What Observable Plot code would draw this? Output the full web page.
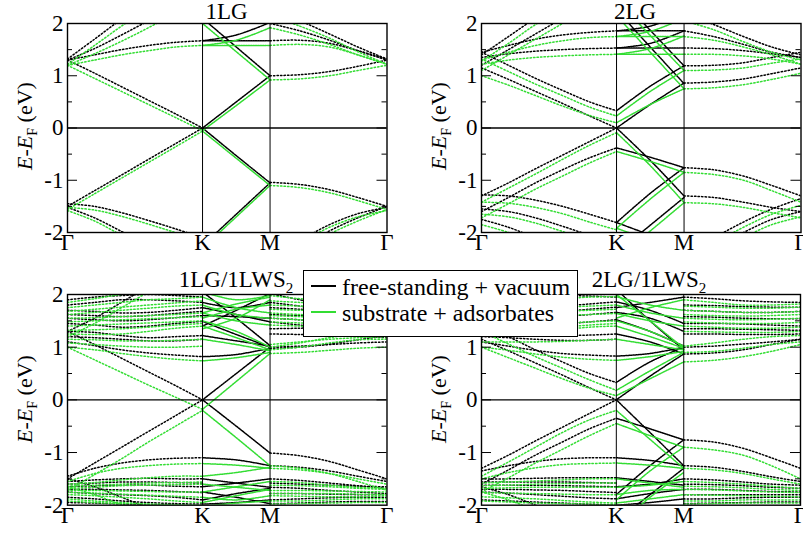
<!DOCTYPE html>
<html><head><meta charset="utf-8">
<script src="https://cdn.jsdelivr.net/npm/d3@7"></script>
<script src="https://cdn.jsdelivr.net/npm/@observablehq/plot@0.6"></script>
<style>
html,body{margin:0;padding:0;background:#fff;overflow:hidden;}
#fig{position:relative;width:803px;height:535px;overflow:hidden;font-family:"Liberation Serif",Tinos,"Times New Roman",Times,"DejaVu Serif",serif;color:#000;}
.abs{position:absolute;}
.title{font-size:23px;line-height:23px;white-space:nowrap;}
.title sub{font-size:15px;vertical-align:-6px;line-height:0;}
.ylab{font-size:22px;line-height:22px;white-space:nowrap;transform:translate(-50%,-50%) rotate(-90deg);}
.ylab sub{font-size:14px;vertical-align:-5px;line-height:0;}
#legend{position:absolute;left:303px;top:270px;width:273px;height:65px;border:1px solid #000;background:#fff;}
.lgline{position:absolute;height:2px;width:25px;}
.lgtext{position:absolute;font-size:24px;line-height:24px;white-space:nowrap;}
</style>
</head><body>
<div id="fig"></div>
<script>
// ---------- axes / labels ----------
const kLabels = ["Γ", "K", "M", "Γ"];
const kPos = [0, 1, 1.5, 2.366];
const yTicks = [-2, -1, 0, 1, 2];
const yMajor = [-1, 0, 1];
const yMinor = [-1.5, -0.5, 0.5, 1.5];
const seriesNames = ["free-standing + vacuum", "substrate + adsorbates"];
const titles = ["1LG", "2LG", "1LG/1LWS<sub>2</sub>", "2LG/1LWS<sub>2</sub>"];
// k-point sampling of each path segment
const xGK = [0, 0.2, 0.4, 0.6, 0.8, 1];
const xKM = [1, 1.25, 1.5];
const xMG = [1.5, 1.72, 1.94, 2.15, 2.366];

// ---------- Panel 1: 1LG ----------
const p1_fs_GK = [
  [1.30, 1.05, 0.79, 0.53, 0.27, 0.00],
  [-1.50, -1.20, -0.90, -0.60, -0.30, 0.00],
  [1.32, 1.70, 2.08, 2.40, 2.70, 2.95],
  [1.30, 1.52, 1.78, 2.05, 2.30, 2.55],
  [1.30, 1.40, 1.50, 1.58, 1.64, 1.67],
  [-1.45, -1.50, -1.62, -1.77, -1.93, -2.10],
  [-1.52, -1.72, -1.98, -2.25, -2.50, -2.70]
];
const p1_fs_KM = [
  [0.00, 0.50, 1.00],
  [0.00, -0.53, -1.05],
  [1.67, 1.67, 1.67],
  [1.67, 1.78, 2.02],
  [2.10, 1.55, 1.00],
  [-2.25, -1.65, -1.05]
];
const p1_fs_MG = [
  [1.00, 1.02, 1.08, 1.18, 1.30],
  [-1.04, -1.08, -1.18, -1.33, -1.50],
  [2.00, 1.86, 1.68, 1.48, 1.30],
  [1.67, 1.68, 1.62, 1.48, 1.32],
  [2.25, 2.05, 1.80, 1.55, 1.32],
  [-2.60, -2.30, -1.97, -1.72, -1.50],
  [-2.45, -2.15, -1.85, -1.64, -1.52]
];
const p1_sub_GK = [
  [1.20, 0.95, 0.70, 0.45, 0.20, -0.05],
  [-1.56, -1.26, -0.96, -0.66, -0.36, -0.06],
  [1.22, 1.58, 1.95, 2.30, 2.60, 2.90],
  [1.20, 1.42, 1.66, 1.92, 2.20, 2.50],
  [1.20, 1.30, 1.40, 1.48, 1.55, 1.58],
  [-1.52, -1.57, -1.69, -1.84, -2.00, -2.15],
  [-1.58, -1.78, -2.05, -2.30, -2.55, -2.75]
];
const p1_sub_KM = [
  [-0.05, 0.43, 0.92],
  [-0.06, -0.58, -1.10],
  [1.58, 1.58, 1.58],
  [1.58, 1.68, 1.92],
  [2.00, 1.46, 0.92],
  [-2.30, -1.70, -1.10]
];
const p1_sub_MG = [
  [0.92, 0.94, 1.00, 1.10, 1.20],
  [-1.10, -1.14, -1.24, -1.39, -1.56],
  [1.92, 1.78, 1.60, 1.40, 1.22],
  [1.58, 1.60, 1.55, 1.40, 1.22],
  [2.15, 1.95, 1.72, 1.46, 1.22],
  [-2.65, -2.35, -2.03, -1.78, -1.56],
  [-2.50, -2.20, -1.90, -1.70, -1.58]
];

// ---------- Panel 2: 2LG ----------
const p2_fs_GK = [
  [1.15, 0.93, 0.70, 0.47, 0.23, 0.00],
  [1.45, 1.20, 0.95, 0.72, 0.50, 0.33],
  [-1.30, -1.05, -0.78, -0.52, -0.26, 0.00],
  [-1.60, -1.33, -1.05, -0.80, -0.57, -0.38],
  [1.35, 1.42, 1.47, 1.50, 1.52, 1.53],
  [1.45, 1.58, 1.70, 1.78, 1.83, 1.86],
  [1.40, 1.75, 2.10, 2.40, 2.70, 2.95],
  [1.20, 1.50, 1.80, 2.10, 2.40, 2.65],
  [-1.28, -1.30, -1.38, -1.50, -1.65, -1.81],
  [-1.55, -1.60, -1.72, -1.88, -2.05, -2.20],
  [-1.75, -1.90, -2.10, -2.30, -2.50, -2.70]
];
const p2_fs_KM = [
  [0.00, 0.45, 0.86],
  [0.33, 0.80, 1.19],
  [2.26, 1.55, 0.85],
  [2.55, 1.87, 1.19],
  [1.53, 1.53, 1.53],
  [1.86, 1.86, 1.86],
  [1.86, 1.95, 2.20],
  [1.53, 1.62, 1.86],
  [0.00, -0.62, -1.30],
  [-0.38, -0.56, -0.76],
  [-1.81, -1.25, -0.76],
  [-2.39, -1.86, -1.33],
  [-1.81, -2.05, -2.30]
];
const p2_fs_MG = [
  [0.86, 0.88, 0.94, 1.04, 1.15],
  [1.19, 1.20, 1.25, 1.35, 1.45],
  [-0.76, -0.80, -0.92, -1.10, -1.30],
  [-1.30, -1.33, -1.42, -1.52, -1.60],
  [1.86, 1.75, 1.60, 1.45, 1.35],
  [2.20, 1.98, 1.75, 1.55, 1.40],
  [1.53, 1.52, 1.48, 1.42, 1.35],
  [-2.60, -2.30, -2.00, -1.75, -1.60],
  [-2.40, -2.10, -1.80, -1.55, -1.35]
];
const p2_sub_GK = [
  [1.00, 0.82, 0.62, 0.42, 0.24, 0.10],
  [1.32, 1.08, 0.84, 0.62, 0.40, 0.23],
  [-1.42, -1.15, -0.88, -0.60, -0.33, -0.09],
  [-1.72, -1.45, -1.17, -0.92, -0.67, -0.45],
  [1.22, 1.30, 1.35, 1.38, 1.40, 1.41],
  [1.30, 1.45, 1.58, 1.67, 1.73, 1.75],
  [1.28, 1.62, 1.98, 2.30, 2.60, 2.85],
  [1.10, 1.40, 1.70, 2.00, 2.30, 2.55],
  [-1.42, -1.44, -1.52, -1.64, -1.80, -1.95],
  [-1.65, -1.70, -1.82, -1.98, -2.15, -2.30],
  [-1.85, -2.00, -2.20, -2.40, -2.60, -2.80]
];
const p2_sub_KM = [
  [0.10, 0.45, 0.75],
  [0.23, 0.70, 1.10],
  [2.15, 1.45, 0.75],
  [2.45, 1.77, 1.10],
  [1.41, 1.41, 1.41],
  [1.75, 1.75, 1.75],
  [1.75, 1.85, 2.10],
  [1.41, 1.52, 1.76],
  [-0.09, -0.72, -1.43],
  [-0.45, -0.64, -0.85],
  [-1.92, -1.36, -0.85],
  [-2.50, -1.97, -1.43],
  [-1.92, -2.15, -2.40]
];
const p2_sub_MG = [
  [0.75, 0.77, 0.83, 0.93, 1.05],
  [1.10, 1.11, 1.15, 1.24, 1.32],
  [-0.85, -0.89, -1.00, -1.20, -1.42],
  [-1.43, -1.45, -1.52, -1.62, -1.72],
  [1.75, 1.68, 1.55, 1.40, 1.22],
  [2.05, 1.88, 1.65, 1.45, 1.30],
  [1.41, 1.41, 1.38, 1.32, 1.22],
  [-2.70, -2.40, -2.10, -1.85, -1.70],
  [-2.50, -2.20, -1.90, -1.65, -1.48]
];

// ---------- Panel 3: 1LG/1LWS2 ----------
const p3_fs_GK = [
  [1.30, 1.05, 0.79, 0.53, 0.27, 0.00],
  [-1.50, -1.20, -0.90, -0.60, -0.30, 0.00],
  [1.10, 1.03, 0.95, 0.89, 0.85, 0.82],
  [1.20, 1.18, 1.15, 1.12, 1.12, 1.15],
  [1.30, 1.28, 1.22, 1.18, 1.20, 1.22],
  [1.45, 1.42, 1.38, 1.40, 1.45, 1.49],
  [1.55, 1.52, 1.50, 1.52, 1.56, 1.60],
  [1.62, 1.60, 1.58, 1.60, 1.64, 1.68],
  [1.70, 1.68, 1.65, 1.66, 1.70, 1.75],
  [1.80, 1.85, 1.90, 1.90, 1.88, 1.85],
  [1.90, 1.95, 1.98, 2.00, 1.98, 1.95],
  [1.30, 1.55, 1.85, 2.15, 2.40, 2.60],
  [-1.45, -1.30, -1.20, -1.14, -1.11, -1.10],
  [-1.55, -1.52, -1.50, -1.49, -1.50, -1.50],
  [-1.60, -1.58, -1.56, -1.56, -1.57, -1.58],
  [-1.65, -1.63, -1.62, -1.62, -1.64, -1.65],
  [-1.70, -1.70, -1.71, -1.72, -1.74, -1.76],
  [-1.75, -1.78, -1.80, -1.82, -1.85, -1.90],
  [-1.85, -1.88, -1.92, -1.95, -1.97, -1.98],
  [-1.95, -1.96, -1.98, -2.00, -2.02, -2.05],
  [-1.50, -1.65, -1.85, -2.05, -2.25, -2.40]
];
const p3_fs_KM = [
  [0.00, 0.50, 1.00],
  [0.00, -0.50, -1.01],
  [0.82, 0.86, 0.98],
  [1.49, 1.24, 1.00],
  [1.22, 1.12, 1.02],
  [1.60, 1.58, 1.55],
  [1.75, 1.62, 1.48],
  [1.85, 1.75, 1.85],
  [2.05, 1.55, 1.03],
  [1.40, 1.70, 2.02],
  [-1.10, -1.14, -1.25],
  [-1.50, -1.58, -1.66],
  [-1.65, -1.58, -1.50],
  [-1.90, -1.78, -1.68],
  [-1.98, -1.95, -1.90],
  [-1.75, -1.85, -1.97]
];
const p3_fs_MG = [
  [1.00, 1.02, 1.05, 1.08, 1.10],
  [0.98, 1.00, 1.06, 1.14, 1.22],
  [1.25, 1.24, 1.22, 1.20, 1.18],
  [1.35, 1.36, 1.38, 1.40, 1.42],
  [1.48, 1.42, 1.36, 1.32, 1.30],
  [1.55, 1.52, 1.48, 1.45, 1.45],
  [1.62, 1.60, 1.58, 1.56, 1.55],
  [1.75, 1.72, 1.68, 1.66, 1.65],
  [1.85, 1.78, 1.70, 1.65, 1.60],
  [2.02, 1.90, 1.80, 1.74, 1.70],
  [-1.01, -1.06, -1.17, -1.33, -1.50],
  [-1.25, -1.28, -1.35, -1.45, -1.55],
  [-1.50, -1.53, -1.58, -1.63, -1.68],
  [-1.58, -1.60, -1.62, -1.64, -1.65],
  [-1.66, -1.68, -1.72, -1.75, -1.78],
  [-1.78, -1.78, -1.79, -1.80, -1.80],
  [-1.90, -1.88, -1.86, -1.85, -1.85],
  [-1.97, -1.96, -1.94, -1.93, -1.93]
];
const p3_sub_GK = [
  [1.00, 0.76, 0.52, 0.28, 0.05, -0.18],
  [-1.72, -1.42, -1.12, -0.80, -0.50, -0.20],
  [1.00, 0.95, 0.88, 0.82, 0.77, 0.74],
  [1.08, 1.05, 1.02, 1.00, 1.00, 1.02],
  [1.15, 1.14, 1.12, 1.12, 1.13, 1.15],
  [1.25, 1.24, 1.25, 1.30, 1.36, 1.40],
  [1.32, 1.33, 1.35, 1.38, 1.42, 1.45],
  [1.40, 1.42, 1.44, 1.46, 1.48, 1.50],
  [1.48, 1.50, 1.52, 1.54, 1.56, 1.58],
  [1.55, 1.56, 1.58, 1.60, 1.62, 1.65],
  [1.62, 1.66, 1.70, 1.74, 1.78, 1.80],
  [1.68, 1.72, 1.76, 1.80, 1.84, 1.88],
  [1.75, 1.80, 1.85, 1.90, 1.92, 1.95],
  [1.85, 1.92, 2.00, 2.05, 2.05, 2.05],
  [1.20, 1.45, 1.75, 2.05, 2.35, 2.60],
  [-1.55, -1.40, -1.30, -1.25, -1.22, -1.21],
  [-1.60, -1.57, -1.52, -1.48, -1.45, -1.45],
  [-1.64, -1.62, -1.60, -1.58, -1.57, -1.56],
  [-1.68, -1.66, -1.63, -1.62, -1.61, -1.60],
  [-1.72, -1.72, -1.73, -1.74, -1.75, -1.75],
  [-1.76, -1.77, -1.79, -1.81, -1.83, -1.85],
  [-1.80, -1.82, -1.85, -1.88, -1.92, -1.95],
  [-1.88, -1.92, -1.95, -1.98, -2.00, -2.02],
  [-1.92, -1.95, -1.97, -1.98, -1.99, -2.00],
  [-1.65, -1.80, -2.00, -2.20, -2.40, -2.60]
];
const p3_sub_KM = [
  [-0.18, 0.35, 0.88],
  [-0.20, -0.72, -1.25],
  [0.74, 0.80, 0.90],
  [1.15, 1.05, 0.93],
  [1.40, 1.18, 0.95],
  [1.50, 1.30, 1.00],
  [1.65, 1.50, 1.42],
  [1.80, 1.62, 1.55],
  [1.95, 1.75, 1.65],
  [1.55, 1.72, 1.80],
  [1.65, 1.82, 1.95],
  [2.05, 1.90, 1.98],
  [1.35, 1.55, 1.90],
  [-1.21, -1.24, -1.30],
  [-1.45, -1.38, -1.28],
  [-1.60, -1.66, -1.72],
  [-1.75, -1.65, -1.55],
  [-1.95, -1.82, -1.70],
  [-1.85, -1.90, -1.82],
  [-2.02, -1.96, -1.92]
];
const p3_sub_MG = [
  [0.88, 0.90, 0.94, 0.98, 1.00],
  [0.95, 1.00, 1.08, 1.14, 1.15],
  [1.00, 1.08, 1.18, 1.25, 1.28],
  [1.05, 1.10, 1.15, 1.18, 1.20],
  [1.42, 1.40, 1.38, 1.38, 1.40],
  [1.48, 1.46, 1.44, 1.44, 1.46],
  [1.55, 1.52, 1.50, 1.50, 1.52],
  [1.60, 1.58, 1.56, 1.56, 1.58],
  [1.65, 1.62, 1.60, 1.62, 1.65],
  [1.72, 1.70, 1.70, 1.72, 1.74],
  [1.80, 1.78, 1.76, 1.78, 1.80],
  [1.88, 1.85, 1.84, 1.85, 1.86],
  [1.98, 1.92, 1.90, 1.90, 1.92],
  [-1.25, -1.30, -1.40, -1.55, -1.72],
  [-1.30, -1.33, -1.40, -1.50, -1.60],
  [-1.55, -1.57, -1.62, -1.66, -1.68],
  [-1.62, -1.63, -1.65, -1.68, -1.70],
  [-1.72, -1.72, -1.73, -1.74, -1.75],
  [-1.78, -1.78, -1.78, -1.79, -1.80],
  [-1.82, -1.83, -1.84, -1.84, -1.82],
  [-1.92, -1.92, -1.90, -1.88, -1.88],
  [-1.98, -1.97, -1.96, -1.95, -1.95]
];

// ---------- Panel 4: 2LG/1LWS2 ----------
const p4_fs_GK = [
  [1.15, 0.93, 0.70, 0.47, 0.23, 0.00],
  [1.45, 1.20, 0.95, 0.72, 0.50, 0.33],
  [-1.30, -1.05, -0.78, -0.52, -0.26, 0.00],
  [-1.60, -1.33, -1.05, -0.80, -0.55, -0.35],
  [1.10, 1.02, 0.94, 0.88, 0.85, 0.83],
  [1.20, 1.18, 1.15, 1.13, 1.13, 1.15],
  [1.30, 1.28, 1.24, 1.22, 1.23, 1.25],
  [1.45, 1.44, 1.42, 1.44, 1.48, 1.52],
  [1.60, 1.58, 1.56, 1.58, 1.62, 1.66],
  [1.68, 1.67, 1.66, 1.68, 1.72, 1.76],
  [1.75, 1.75, 1.75, 1.78, 1.82, 1.86],
  [1.90, 1.94, 1.97, 1.98, 1.97, 1.95],
  [1.35, 1.60, 1.90, 2.20, 2.45, 2.70],
  [-1.35, -1.25, -1.17, -1.12, -1.10, -1.10],
  [-1.50, -1.50, -1.49, -1.48, -1.48, -1.48],
  [-1.56, -1.56, -1.56, -1.56, -1.57, -1.58],
  [-1.62, -1.62, -1.62, -1.63, -1.64, -1.65],
  [-1.70, -1.70, -1.71, -1.72, -1.74, -1.76],
  [-1.75, -1.77, -1.80, -1.83, -1.86, -1.88],
  [-1.90, -1.92, -1.94, -1.96, -1.98, -2.00],
  [-1.65, -1.80, -2.00, -2.20, -2.40, -2.60]
];
const p4_fs_KM = [
  [0.00, 0.45, 0.87],
  [0.33, 0.72, 1.00],
  [0.83, 0.88, 1.00],
  [1.25, 1.10, 0.87],
  [1.52, 1.30, 1.02],
  [1.66, 1.55, 1.30],
  [1.86, 1.70, 1.45],
  [1.75, 1.85, 1.95],
  [2.10, 1.50, 0.95],
  [0.00, -0.62, -1.25],
  [-0.35, -0.55, -0.76],
  [-1.10, -1.15, -1.25],
  [-1.80, -1.25, -0.76],
  [-1.48, -1.55, -1.62],
  [-1.65, -1.60, -1.50],
  [-1.88, -1.78, -1.70],
  [-2.00, -1.95, -1.88],
  [-2.30, -1.80, -1.30]
];
const p4_fs_MG = [
  [0.87, 0.89, 0.95, 1.05, 1.15],
  [1.00, 1.02, 1.06, 1.10, 1.15],
  [1.25, 1.25, 1.24, 1.24, 1.25],
  [1.35, 1.35, 1.34, 1.33, 1.32],
  [1.45, 1.45, 1.44, 1.42, 1.40],
  [1.58, 1.57, 1.55, 1.54, 1.54],
  [1.70, 1.68, 1.66, 1.66, 1.68],
  [1.80, 1.79, 1.77, 1.76, 1.76],
  [1.95, 1.92, 1.88, 1.86, 1.85],
  [-0.76, -0.80, -0.92, -1.10, -1.30],
  [-1.25, -1.28, -1.36, -1.46, -1.55],
  [-1.50, -1.52, -1.56, -1.60, -1.62],
  [-1.60, -1.61, -1.63, -1.66, -1.68],
  [-1.70, -1.70, -1.72, -1.74, -1.75],
  [-1.80, -1.80, -1.80, -1.80, -1.80],
  [-1.88, -1.88, -1.86, -1.85, -1.85],
  [-1.97, -1.96, -1.95, -1.94, -1.94]
];
const p4_sub_GK = [
  [1.00, 0.80, 0.60, 0.40, 0.22, 0.08],
  [1.30, 1.06, 0.82, 0.60, 0.38, 0.18],
  [-1.45, -1.18, -0.90, -0.62, -0.38, -0.20],
  [-1.75, -1.48, -1.20, -0.94, -0.68, -0.45],
  [1.00, 0.94, 0.87, 0.81, 0.77, 0.75],
  [1.10, 1.10, 1.10, 1.11, 1.13, 1.15],
  [1.22, 1.24, 1.28, 1.33, 1.38, 1.40],
  [1.30, 1.32, 1.35, 1.38, 1.42, 1.45],
  [1.38, 1.40, 1.42, 1.45, 1.48, 1.50],
  [1.52, 1.54, 1.56, 1.60, 1.62, 1.64],
  [1.58, 1.61, 1.64, 1.68, 1.70, 1.72],
  [1.65, 1.68, 1.72, 1.76, 1.78, 1.80],
  [1.80, 1.84, 1.88, 1.92, 1.95, 1.96],
  [1.22, 1.48, 1.78, 2.08, 2.35, 2.60],
  [-1.50, -1.38, -1.29, -1.23, -1.21, -1.20],
  [-1.58, -1.56, -1.54, -1.52, -1.50, -1.50],
  [-1.63, -1.62, -1.60, -1.59, -1.58, -1.58],
  [-1.68, -1.67, -1.66, -1.66, -1.66, -1.66],
  [-1.76, -1.77, -1.78, -1.79, -1.80, -1.80],
  [-1.84, -1.86, -1.88, -1.91, -1.94, -1.96],
  [-1.92, -1.94, -1.96, -1.97, -1.98, -1.99],
  [-1.75, -1.90, -2.10, -2.30, -2.50, -2.70]
];
const p4_sub_KM = [
  [0.08, 0.40, 0.72],
  [0.18, 0.55, 0.90],
  [0.75, 0.82, 0.92],
  [1.15, 1.05, 0.95],
  [1.40, 1.20, 0.98],
  [1.50, 1.30, 1.02],
  [1.64, 1.50, 1.40],
  [1.80, 1.65, 1.55],
  [1.96, 1.80, 1.70],
  [1.55, 1.75, 1.90],
  [2.00, 1.50, 0.98],
  [-0.20, -0.75, -1.30],
  [-0.45, -0.68, -0.90],
  [-1.20, -1.24, -1.30],
  [-1.90, -1.35, -0.90],
  [-1.50, -1.58, -1.66],
  [-1.66, -1.62, -1.55],
  [-1.80, -1.72, -1.70],
  [-1.96, -1.88, -1.80],
  [-2.40, -1.85, -1.38]
];
const p4_sub_MG = [
  [0.72, 0.75, 0.82, 0.92, 1.05],
  [0.90, 0.92, 0.98, 1.05, 1.10],
  [1.02, 1.08, 1.15, 1.20, 1.22],
  [1.30, 1.29, 1.28, 1.28, 1.30],
  [1.40, 1.38, 1.36, 1.36, 1.38],
  [1.48, 1.46, 1.45, 1.45, 1.47],
  [1.55, 1.53, 1.52, 1.53, 1.55],
  [1.62, 1.60, 1.59, 1.60, 1.62],
  [1.70, 1.68, 1.66, 1.66, 1.68],
  [1.78, 1.76, 1.74, 1.74, 1.76],
  [1.90, 1.85, 1.80, 1.80, 1.82],
  [-0.90, -0.95, -1.05, -1.25, -1.50],
  [-1.30, -1.33, -1.40, -1.50, -1.60],
  [-1.55, -1.57, -1.60, -1.64, -1.68],
  [-1.64, -1.65, -1.67, -1.70, -1.72],
  [-1.70, -1.71, -1.73, -1.75, -1.76],
  [-1.80, -1.81, -1.82, -1.83, -1.84],
  [-1.92, -1.92, -1.90, -1.90, -1.90],
  [-1.98, -1.97, -1.96, -1.96, -1.96]
];

// ---------- layout ----------
const FONT = "'Liberation Serif',Tinos,'Times New Roman',Times,'DejaVu Serif',serif";
const BLACK = "#000000";
const GREEN = "#33dd33";
const segX = {GK: xGK, KM: xKM, MG: xMG};
const panels = [
  {left: 66.7, top: 22.7, w: 319.5, h: 209, fs: {GK: p1_fs_GK, KM: p1_fs_KM, MG: p1_fs_MG}, sub: {GK: p1_sub_GK, KM: p1_sub_KM, MG: p1_sub_MG},
   title: {cx: 226.5, top: 0}, ylab: {cx: 25, cy: 126}},
  {left: 480.5, top: 22.7, w: 319.5, h: 209, fs: {GK: p2_fs_GK, KM: p2_fs_KM, MG: p2_fs_MG}, sub: {GK: p2_sub_GK, KM: p2_sub_KM, MG: p2_sub_MG},
   title: {cx: 635, top: 0}, ylab: {cx: 439, cy: 126}},
  {left: 66.7, top: 294.3, w: 319.5, h: 210.7, fs: {GK: p3_fs_GK, KM: p3_fs_KM, MG: p3_fs_MG}, sub: {GK: p3_sub_GK, KM: p3_sub_KM, MG: p3_sub_MG},
   title: {cx: 236, top: 268}, ylab: {cx: 25, cy: 399}},
  {left: 481, top: 294.3, w: 319, h: 210.7, fs: {GK: p4_fs_GK, KM: p4_fs_KM, MG: p4_fs_MG}, sub: {GK: p4_sub_GK, KM: p4_sub_KM, MG: p4_sub_MG},
   title: {cx: 649, top: 268}, ylab: {cx: 439, cy: 399}}
];

function rowsOf(bandsBySeg, seg, tag) {
  const xs = segX[seg];
  const rows = [];
  bandsBySeg[seg].forEach((band, b) => band.forEach((v, i) => rows.push({x: xs[i], y: v, key: tag + seg + b})));
  return rows;
}

function makePanel(P) {
  const mL = 62, mR = 14, mT = 10, mB = 34;
  const marks = [];
  for (const [tag, color] of [["fs", BLACK], ["sub", GREEN]]) {
    for (const seg of ["GK", "KM", "MG"]) {
      marks.push(Plot.line(rowsOf(P[tag], seg, tag), {
        x: "x", y: "y", z: "key", stroke: color, strokeWidth: 1.5,
        strokeDasharray: seg === "KM" ? "1.4 1.0" : "1.4 2.1",
        curve: "catmull-rom", clip: true
      }));
    }
  }
  marks.push(Plot.ruleY([0], {stroke: BLACK, strokeWidth: 1.3}));
  marks.push(Plot.ruleX(kPos.slice(1, 3), {stroke: BLACK, strokeWidth: 1}));
  marks.push(Plot.tickY(yMajor, {stroke: BLACK, strokeWidth: 1, insetRight: P.w - 10}));
  marks.push(Plot.tickY(yMajor, {stroke: BLACK, strokeWidth: 1, insetLeft: P.w - 10}));
  marks.push(Plot.tickY(yMinor, {stroke: BLACK, strokeWidth: 1, insetRight: P.w - 5}));
  marks.push(Plot.tickY(yMinor, {stroke: BLACK, strokeWidth: 1, insetLeft: P.w - 5}));
  marks.push(Plot.frame({stroke: BLACK, strokeWidth: 1.4}));
  marks.push(Plot.axisY(yTicks, {anchor: "left", tickSize: 0, tickPadding: 4, fontSize: 23, label: null, fontFamily: FONT, tickFormat: d => String(d)}));
  marks.push(Plot.axisX(kPos, {anchor: "bottom", tickSize: 0, tickPadding: 1, fontSize: 23, label: null, fontFamily: FONT, tickFormat: d => kLabels[kPos.indexOf(d)]}));
  const svg = Plot.plot({
    width: mL + P.w + mR, height: mT + P.h + mB,
    marginLeft: mL, marginRight: mR, marginTop: mT, marginBottom: mB,
    x: {domain: [kPos[0], kPos[3]], axis: null},
    y: {domain: [yTicks[0], yTicks[yTicks.length - 1]], axis: null},
    style: {fontFamily: FONT, fontSize: "23px", background: "transparent", color: "#000", overflow: "visible"},
    marks
  });
  svg.style.position = "absolute";
  svg.style.left = (P.left - mL) + "px";
  svg.style.top = (P.top - mT) + "px";
  return svg;
}

const fig = document.getElementById("fig");
panels.forEach((P, i) => {
  fig.appendChild(makePanel(P));
  const t = document.createElement("div");
  t.className = "abs title";
  t.innerHTML = titles[i];
  t.style.top = P.title.top + "px";
  t.style.left = P.title.cx + "px";
  t.style.transform = "translateX(-50%)";
  fig.appendChild(t);
  const yl = document.createElement("div");
  yl.className = "abs ylab";
  yl.innerHTML = "<i>E</i>-<i>E</i><sub>F</sub> (eV)";
  yl.style.left = P.ylab.cx + "px";
  yl.style.top = P.ylab.cy + "px";
  fig.appendChild(yl);
});

// legend
const lg = document.createElement("div");
lg.id = "legend";
[BLACK, GREEN].forEach((c, i) => {
  const ln = document.createElement("div");
  ln.className = "lgline";
  ln.style.background = c;
  ln.style.left = "7px";
  ln.style.top = (14 + i * 26) + "px";
  lg.appendChild(ln);
  const tx = document.createElement("div");
  tx.className = "lgtext";
  tx.textContent = seriesNames[i];
  tx.style.left = "38px";
  tx.style.top = (4 + i * 26) + "px";
  lg.appendChild(tx);
});
fig.appendChild(lg);
</script>
</body></html>
